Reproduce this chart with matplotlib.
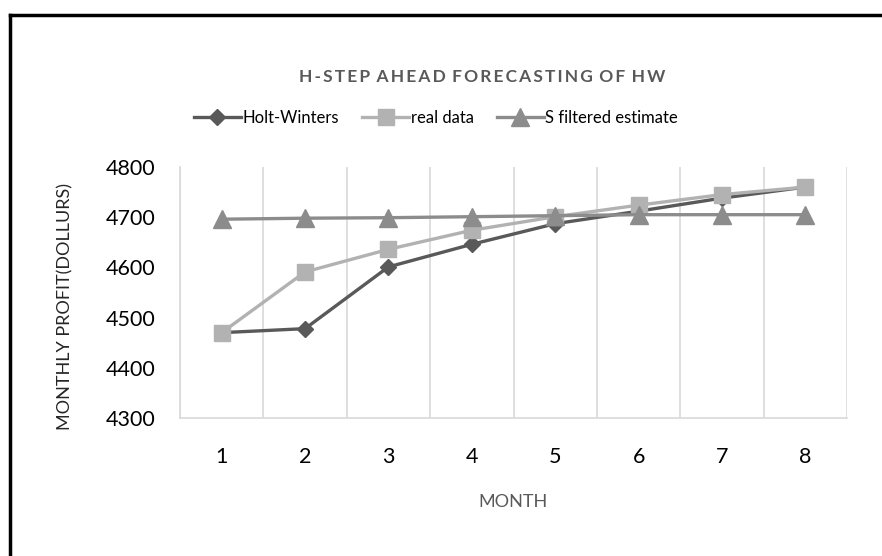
import matplotlib
matplotlib.use("Agg")
import matplotlib.pyplot as plt
from matplotlib.lines import Line2D

months = [1, 2, 3, 4, 5, 6, 7, 8]
holt_winters = [4470, 4478, 4601, 4646, 4687, 4712, 4738, 4760]
real_data = [4470, 4591, 4636, 4674, 4701, 4724, 4745, 4760]
s_filtered = [4696, 4698, 4699, 4701, 4703, 4705, 4705, 4705]
y_ticks = [4300, 4400, 4500, 4600, 4700, 4800]

plt.rcParams['font.family'] = ['Lato', 'DejaVu Sans']

W, H = 882, 556
fig = plt.figure(figsize=(W / 100, H / 100), dpi=100)
ax = fig.add_axes([180 / W, 1 - 418 / H, (847 - 180) / W, (418 - 167) / H])

c_hw = '#595959'
c_real = '#B2B2B2'
c_s = '#8C8C8C'

ax.plot(months, holt_winters, color=c_hw, lw=2.4, marker='D', ms=8.5, label='Holt-Winters', zorder=3)
ax.plot(months, real_data, color=c_real, lw=2.4, marker='s', ms=12, label='real data', zorder=4)
ax.plot(months, s_filtered, color=c_s, lw=2.4, marker='^', ms=13, label='S filtered estimate', zorder=5)

ax.set_xlim(0.5, 8.5)
ax.set_ylim(4300, 4800)
ax.set_yticks(y_ticks)
ax.set_xticks(months)
ax.set_xticks([m + 0.5 for m in [0] + months], minor=True)
ax.grid(True, which='minor', axis='x', color='#D9D9D9', lw=1.2)
ax.grid(False, which='major')
for side in ['top', 'right']:
    ax.spines[side].set_visible(False)
ax.spines['left'].set_color('#D9D9D9')
ax.spines['bottom'].set_color('#D9D9D9')
ax.spines['left'].set_linewidth(1.2)
ax.spines['bottom'].set_linewidth(1.2)
ax.tick_params(axis='both', which='both', length=0, labelsize=15.5, colors='#000000')
ax.tick_params(axis='x', pad=21)
ax.tick_params(axis='y', pad=18)

ax.set_ylabel('MONTHLY PROFIT(DOLLURS)', fontsize=13, color='#262626')
ax.yaxis.set_label_coords(73 / W, 1 - 307 / H, transform=fig.transFigure)
fig.text(513 / W, 1 - 502 / H, 'MONTH', ha='center', va='center', fontsize=13, color='#595959')

title = '\u2009'.join('H-STEP') + '\u2009\u2009\u2009' + '\u2009'.join('AHEAD') + '\u2009\u2009\u2009' + \
    '\u2009'.join('FORECASTING') + '\u2009\u2009\u2009' + '\u2009'.join('OF') + '\u2009\u2009\u2009' + '\u2009'.join('HW')
fig.text(482 / W, 1 - 77 / H, title, ha='center', va='center', fontsize=12.5, fontweight='bold', color='#595959')

handles, labels = ax.get_legend_handles_labels()
leg = fig.legend(handles, labels, loc='center', bbox_to_anchor=(436 / W, 1 - 118 / H), ncol=3,
                 frameon=False, fontsize=12, handlelength=2.8, handletextpad=0.1, columnspacing=1.4)

# partial border (top and left visible)
fig.add_artist(Line2D([10 / W, 10 / W], [0, 1 - 15 / H], transform=fig.transFigure, color='black', lw=2.5))
fig.add_artist(Line2D([10 / W, 1], [1 - 15 / H, 1 - 15 / H], transform=fig.transFigure, color='black', lw=2.5))

fig.savefig('out.png', dpi=100, facecolor='white')
